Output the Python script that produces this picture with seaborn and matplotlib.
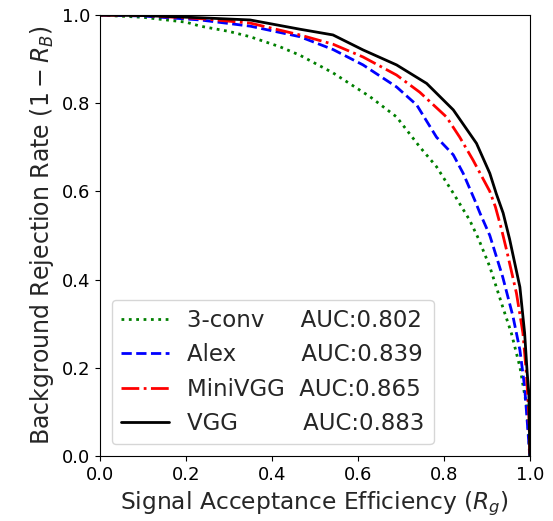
import pandas as pd
import seaborn as sns
import matplotlib
matplotlib.use("Agg")
import matplotlib.pyplot as plt

# ROC-style curves
conv3_x = [0, 0.1, 0.2, 0.233, 0.30, 0.349, 0.419, 0.465, 0.542, 0.628, 0.690, 0.744,
           0.783, 0.822, 0.860, 0.880, 0.907, 0.937, 0.957, 0.977, 0.993, 0.998, 1.0]
conv3_y = [1.0, 0.995, 0.984, 0.975, 0.963, 0.951, 0.928, 0.909, 0.869, 0.815, 0.769, 0.701,
           0.656, 0.596, 0.535, 0.494, 0.429, 0.338, 0.279, 0.202, 0.111, 0.036, 0.0]

alex_x = [0, 0.1, 0.233, 0.349, 0.465, 0.542, 0.612, 0.690, 0.737, 0.783, 0.822, 0.845,
          0.872, 0.884, 0.907, 0.937, 0.961, 0.977, 0.988, 0.995, 1.0]
alex_y = [1.0, 0.998, 0.989, 0.975, 0.951, 0.922, 0.887, 0.837, 0.796, 0.723, 0.683, 0.641,
          0.580, 0.551, 0.500, 0.406, 0.316, 0.240, 0.157, 0.066, 0.0]

minivgg_x = [0, 0.1, 0.233, 0.349, 0.465, 0.542, 0.612, 0.690, 0.744, 0.806, 0.837, 0.868,
             0.907, 0.920, 0.934, 0.946, 0.969, 0.984, 0.992, 0.998, 1.0]
minivgg_y = [1.0, 0.999, 0.992, 0.982, 0.955, 0.934, 0.905, 0.864, 0.825, 0.769, 0.723, 0.671,
             0.600, 0.565, 0.515, 0.467, 0.369, 0.279, 0.188, 0.090, 0.0]

vgg_x = [0, 0.1, 0.233, 0.349, 0.465, 0.542, 0.612, 0.690, 0.760, 0.822, 0.876, 0.907,
         0.922, 0.938, 0.953, 0.977, 0.988, 0.994, 0.998, 1.0]
vgg_y = [1.0, 0.999, 0.994, 0.989, 0.968, 0.955, 0.921, 0.887, 0.845, 0.785, 0.709, 0.641,
         0.595, 0.551, 0.492, 0.383, 0.279, 0.188, 0.140, 0.0]

names = ["3-conv", "Alex", "MiniVGG", "VGG"]
aucs = ["0.802", "0.839", "0.865", "0.883"]
# spaces between model name and AUC text
gaps = [5, 9, 2, 9]

sns.set_style("ticks")
plt.rcParams['font.family'] = ['DejaVu Sans']

fig, ax = plt.subplots(figsize=(5.53, 5.21), dpi=100)
fig.subplots_adjust(left=0.181, right=0.958, top=0.971, bottom=0.125)

series = [(conv3_x, conv3_y, "green", ":"),
          (alex_x, alex_y, "blue", "--"),
          (minivgg_x, minivgg_y, "red", "-."),
          (vgg_x, vgg_y, "black", "-")]

for (xs, ys, c, ls), name, auc, n in zip(series, names, aucs, gaps):
    df = pd.DataFrame({"x": xs, "y": ys})
    label = name + " " * n + "AUC:" + auc
    sns.lineplot(data=df, x="x", y="y", ax=ax, color=c, linestyle=ls, lw=2,
                 label=label, sort=False)

ax.set_xlim(0, 1)
ax.set_ylim(0, 1)
ax.set_xticks([0, 0.2, 0.4, 0.6, 0.8, 1.0])
ax.set_yticks([0, 0.2, 0.4, 0.6, 0.8, 1.0])
ax.tick_params(labelsize=13, colors="black")
for s in ax.spines.values():
    s.set_color("black")
ax.set_xlabel(r"Signal Acceptance Efficiency ($R_g$)", fontsize=16.8)
ax.set_ylabel(r"Background Rejection Rate ($1-R_B$)", fontsize=17)
ax.legend(loc="lower left", fontsize=16.5, handlelength=2.1, labelspacing=0.5)

fig.savefig("out.png", dpi=100)
